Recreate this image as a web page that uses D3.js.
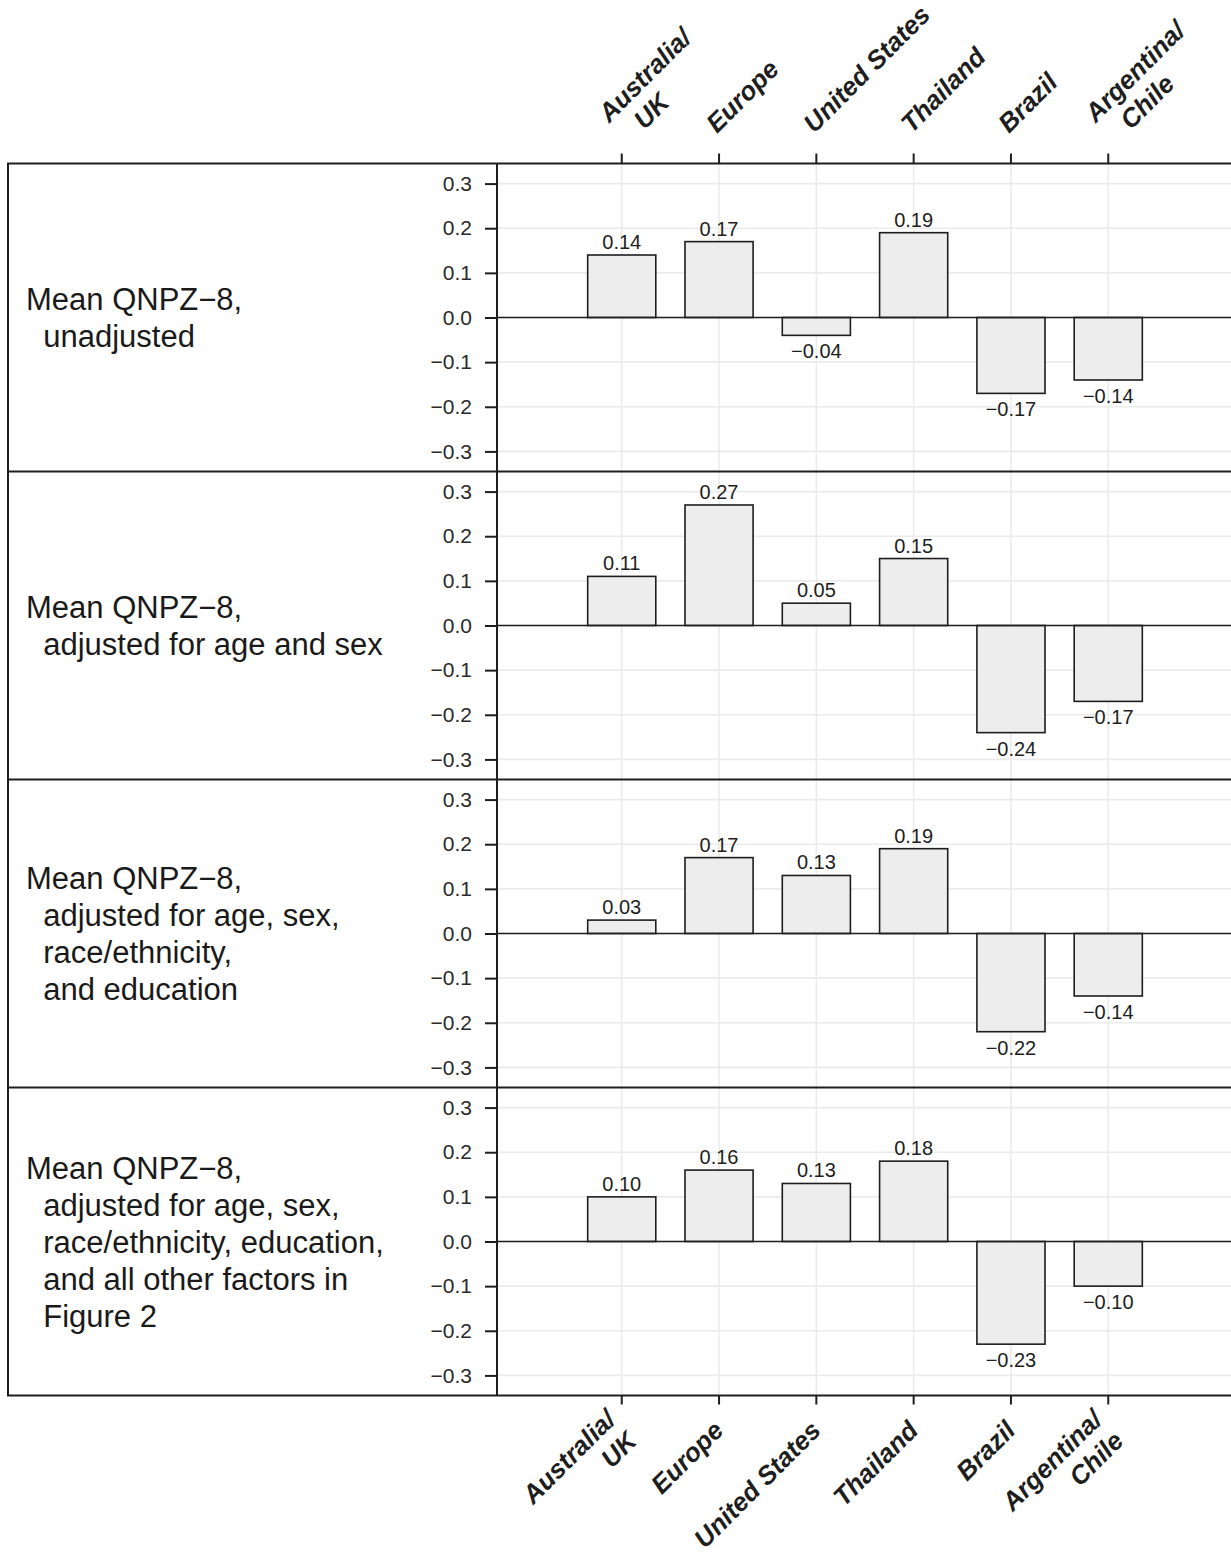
<!DOCTYPE html>
<html><head><meta charset="utf-8">
<script src="https://cdn.jsdelivr.net/npm/d3@7"></script>
<style>
body{margin:0;background:#fff}
text{font-family:"Liberation Sans",Arial,Helvetica,sans-serif}
</style>
</head><body>
<svg id="c" width="1231" height="1553"></svg>
<script>
// ---- data ----
const categories = ["Australia/\nUK", "Europe", "United States", "Thailand", "Brazil", "Argentina/\nChile"];
const valuesUnadjusted = [0.14, 0.17, -0.04, 0.19, -0.17, -0.14];
const valuesAgeSex = [0.11, 0.27, 0.05, 0.15, -0.24, -0.17];
const valuesAgeSexRaceEdu = [0.03, 0.17, 0.13, 0.19, -0.22, -0.14];
const valuesAllFactors = [0.10, 0.16, 0.13, 0.18, -0.23, -0.10];
const panelLabels = [
  ["Mean QNPZ\u22128,", "  unadjusted"],
  ["Mean QNPZ\u22128,", "  adjusted for age and sex"],
  ["Mean QNPZ\u22128,", "  adjusted for age, sex,", "  race/ethnicity,", "  and education"],
  ["Mean QNPZ\u22128,", "  adjusted for age, sex,", "  race/ethnicity, education,", "  and all other factors in", "  Figure 2"]
];
const yTicks = [0.3, 0.2, 0.1, 0.0, -0.1, -0.2, -0.3];
const yDomain = [-0.345, 0.345];

const panels = [valuesUnadjusted, valuesAgeSex, valuesAgeSexRaceEdu, valuesAllFactors];

// ---- layout ----
const W = 1231;
const boxLeft = 8, plotLeft = 497, plotRight = 1233;
const panelTop = 163.5, panelH = 308;
const bottomY = panelTop + panelH * panels.length;
const dark = "#1e1e1e";

const svg = d3.select("#c");
const x = d3.scaleBand().domain(categories).range([plotLeft, plotRight])
  .paddingInner(0.3).paddingOuter(0.932);
const bw = x.bandwidth();
const cx = c => x(c) + bw / 2;

// vertical grid
svg.append("g").selectAll("line").data(categories).join("line")
  .attr("x1", cx).attr("x2", cx).attr("y1", panelTop).attr("y2", bottomY)
  .attr("stroke", "#ebebeb").attr("stroke-width", 1.6);

const fmtBar = d3.format(".2f");
const fmtTick = d3.format(".1f");

panels.forEach((vals, i) => {
  const top = panelTop + i * panelH;
  const y = d3.scaleLinear().domain(yDomain).range([top + panelH, top]);
  const g = svg.append("g");
  // horizontal grid
  g.append("g").selectAll("line").data(yTicks).join("line")
    .attr("x1", plotLeft).attr("x2", plotRight)
    .attr("y1", d => y(d)).attr("y2", d => y(d))
    .attr("stroke", "#ebebeb").attr("stroke-width", 1.6);
  // bars
  const data = categories.map((c, j) => ({c, v: vals[j]}));
  g.append("g").selectAll("rect").data(data).join("rect")
    .attr("x", d => x(d.c)).attr("width", bw)
    .attr("y", d => y(Math.max(0, d.v)))
    .attr("height", d => Math.abs(y(d.v) - y(0)))
    .attr("fill", "#ededed").attr("stroke", dark).attr("stroke-width", 1.6);
  // zero line
  g.append("line").attr("x1", plotLeft).attr("x2", plotRight)
    .attr("y1", y(0)).attr("y2", y(0)).attr("stroke", dark).attr("stroke-width", 1.6);
  // bar labels
  g.append("g").selectAll("text").data(data).join("text")
    .attr("x", d => cx(d.c))
    .attr("y", d => d.v >= 0 ? y(d.v) - 6 : y(d.v) + 23)
    .attr("text-anchor", "middle").attr("font-size", 20).attr("fill", dark)
    .text(d => fmtBar(d.v));
  // y axis
  const ax = g.append("g").attr("transform", `translate(${plotLeft},0)`)
    .call(d3.axisLeft(y).tickValues(yTicks).tickFormat(fmtTick).tickSize(12).tickPadding(13));
  ax.select(".domain").remove();
  ax.selectAll(".tick line").attr("stroke", dark).attr("stroke-width", 2);
  ax.selectAll(".tick text").attr("font-size", 21).attr("fill", "#2a2a2a")
    .attr("font-family", '"Liberation Sans",Arial,sans-serif');
  // panel label
  const lines = panelLabels[i];
  const center = top + panelH / 2;
  g.append("g").selectAll("text").data(lines).join("text")
    .attr("x", 26)
    .attr("y", (d, k) => center + (k - (lines.length - 1) / 2) * 37 + 11)
    .attr("font-size", 31).attr("fill", "#1a1a1a")
    .style("white-space", "pre")
    .text(d => d);
  // separator line at top of panel
  svg.append("line").attr("x1", boxLeft - 1).attr("x2", W)
    .attr("y1", top).attr("y2", top).attr("stroke", dark).attr("stroke-width", 2);
});
// bottom border
svg.append("line").attr("x1", boxLeft - 1).attr("x2", W)
  .attr("y1", bottomY).attr("y2", bottomY).attr("stroke", dark).attr("stroke-width", 2);
// left border
svg.append("line").attr("x1", boxLeft).attr("x2", boxLeft)
  .attr("y1", panelTop).attr("y2", bottomY).attr("stroke", dark).attr("stroke-width", 2);
// y axis line
svg.append("line").attr("x1", plotLeft).attr("x2", plotLeft)
  .attr("y1", panelTop).attr("y2", bottomY).attr("stroke", dark).attr("stroke-width", 2);

// top axis ticks
const axTop = svg.append("g").attr("transform", `translate(0,${panelTop})`)
  .call(d3.axisTop(x).tickSize(10).tickFormat(""));
axTop.select(".domain").remove();
axTop.selectAll(".tick line").attr("stroke", dark).attr("stroke-width", 2);
// bottom axis ticks
const axBot = svg.append("g").attr("transform", `translate(0,${bottomY})`)
  .call(d3.axisBottom(x).tickSize(9).tickFormat(""));
axBot.select(".domain").remove();
axBot.selectAll(".tick line").attr("stroke", dark).attr("stroke-width", 2);

// top labels (rotated, start-anchored, second line indented)
categories.forEach(c => {
  const lines = c.split("\n");
  const g = svg.append("g").attr("transform", `translate(${cx(c) - 2},134) rotate(-45)`);
  lines.forEach((t, k) => {
    const dy = lines.length === 1 ? 0 : (k === 0 ? -15 : 15);
    const dx = lines.length === 1 ? 0 : (k === 0 ? 0 : 20);
    g.append("text").attr("x", dx).attr("y", dy)
      .attr("font-size", 26).attr("font-weight", "bold").attr("font-style", "italic")
      .attr("fill", dark).text(t);
  });
});
// bottom labels (rotated, end-anchored)
categories.forEach(c => {
  const lines = c.split("\n");
  const g = svg.append("g").attr("transform", `translate(${cx(c) + 6},1432) rotate(-45)`);
  lines.forEach((t, k) => {
    const dy = lines.length === 1 ? 0 : (k === 0 ? -15 : 15);
    g.append("text").attr("x", 0).attr("y", dy).attr("text-anchor", "end")
      .attr("font-size", 26).attr("font-weight", "bold").attr("font-style", "italic")
      .attr("fill", dark).text(t);
  });
});
</script>
</body></html>
